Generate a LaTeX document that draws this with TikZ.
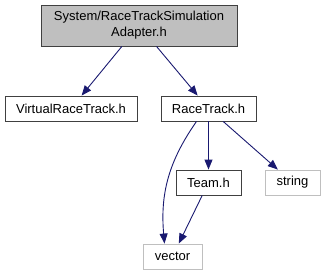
\documentclass[tikz,border=0pt]{standalone}
\usepackage{fontspec}
\setmainfont{Liberation Sans}
\usepackage{tikz}
\usetikzlibrary{arrows.meta}

\begin{document}
\begin{tikzpicture}[x=1pt,y=-1pt,
    file/.style={draw=black!75,line width=0.9pt,fill=white,inner sep=0pt,align=center,
      font=\fontsize{13}{16}\selectfont},
    sys/.style={file,draw=black!25},
    edge/.style={draw={rgb,255:red,25;green,25;blue,112},line width=0.9pt,
      -{Triangle[length=10pt,width=8pt]}}]
  \useasboundingbox (0,0) rectangle (325,276);
  \path (139,25.5) node[file,fill=black!25,minimum width=196pt,minimum height=41pt] (adapter)
          {System/RaceTrackSimulation\\Adapter.h}
        (71,108.5) node[file,minimum width=132pt,minimum height=25pt] (virtual) {VirtualRaceTrack.h}
        (208.5,108.5) node[file,minimum width=95pt,minimum height=25pt] (racetrack) {RaceTrack.h}
        (208.5,182.5) node[file,minimum width=65pt,minimum height=25pt] (team) {Team.h}
        (292.5,182.5) node[sys,minimum width=55pt,minimum height=25pt] (string) {string}
        (172.5,256.5) node[sys,minimum width=59pt,minimum height=25pt] (vector) {vector};
  \draw [edge] (adapter) -- (virtual);
  \draw [edge] (adapter) -- (racetrack);
  \draw [edge] ([xshift=-12pt]racetrack.south) to[out=-125,in=95] ([xshift=-8pt]vector.north);
  \draw [edge] (racetrack) -- (team);
  \draw [edge] (racetrack) -- (string);
  \draw [edge] (team) -- (vector);
\end{tikzpicture}
\end{document}
